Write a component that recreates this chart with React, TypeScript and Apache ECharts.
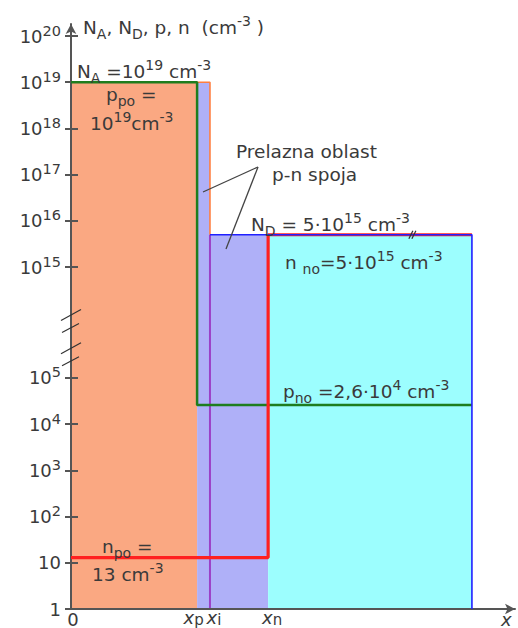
import { useEffect, useRef } from "react";
import * as echarts from "echarts";

// Positions along the device (arbitrary length units): 0, x_p, x_i, x_n, end of n-region
const xPositions = [0, 28.4, 31.3, 44.4, 90.3];
const xTickNames = ["0", "p", "i", "n"];

// Doping levels (cm^-3)
const dopingNA = 1e19;
const dopingND = 5e15;

// Majority / minority carrier concentrations (cm^-3): [p-side, n-side]
const holes = [1e19, 2.6e4]; // p_po, p_no
const electrons = [13, 5e15]; // n_po, n_no

// Decades shown on the concentration axis (below and above the break)
const lowDecades = [0, 1, 2, 3, 4, 5];
const highDecades = [15, 16, 17, 18, 19, 20];

// Broken logarithmic scale: decades 5..15 squeezed into BREAK_GAP units
const BREAK_LOW = 5;
const BREAK_HIGH = 15;
const BREAK_GAP = 2.4;
const Y_MAX = 12.66;

function toU(v: number): number {
  const e = Math.log10(v);
  if (e <= BREAK_LOW) return e;
  if (e <= BREAK_HIGH)
    return BREAK_LOW + ((e - BREAK_LOW) / (BREAK_HIGH - BREAK_LOW)) * BREAK_GAP;
  return e - BREAK_HIGH + BREAK_LOW + BREAK_GAP;
}

function decadeOf(u: number): number {
  if (u <= BREAK_LOW + 0.01) return Math.round(u);
  return Math.round(u - BREAK_LOW - BREAK_GAP + BREAK_HIGH);
}

const FONT = "'DejaVu Sans', Verdana, sans-serif";
const TEXT = "#3a3a3a";
const AXIS = "#555555";

const FILL_P = "#faa882";
const FILL_DEPL = "#afb0f8";
const FILL_N = "#9cfefe";

export default function App() {
  const ref = useRef<HTMLDivElement>(null);

  useEffect(() => {
    if (!ref.current) return;
    const chart = echarts.init(ref.current, undefined, { renderer: "svg" });

    const [x0, xP, xI, xN, xEnd] = xPositions;
    const uNA = toU(dopingNA);
    const uND = toU(dopingND);
    const uBottom = 0;

    const yTicks = [...lowDecades, ...highDecades].map((e) => toU(Math.pow(10, e)));

    // Regions: [from, to, top, colour]
    const regions: [number, number, number, string][] = [
      [x0, xP, uNA, FILL_P],
      [xP, xI, uNA, FILL_DEPL],
      [xI, xN, uND, FILL_DEPL],
      [xN, xEnd, uND, FILL_N],
    ];

    // Break marks: two on the concentration axis, one on the N_D line
    const breakMarks = [
      [0, BREAK_LOW + BREAK_GAP * 0.5, 0],
      [0, BREAK_LOW + BREAK_GAP * 0.2, 0],
      [77, uND, 1],
    ];

    const richText = {
      t: { font: `18.5px ${FONT}`, fill: TEXT },
      sub: { font: `14px ${FONT}`, fill: TEXT, padding: [13, 0, 0, 0] },
      sup: { font: `14px ${FONT}`, fill: TEXT, padding: [0, 0, 12, 0] },
    };

    const label = (x: number, y: number, text: string) => ({
      type: "text",
      x,
      y,
      z: 20,
      style: {
        text,
        rich: richText,
        font: `18.5px ${FONT}`,
        fill: TEXT,
        align: "left",
        verticalAlign: "middle",
        textAlign: "left",
        textVerticalAlign: "middle",
      },
    });

    const line = (data: number[][], color: string, width: number, z: number) => ({
      type: "line",
      data,
      symbol: "none",
      silent: true,
      z,
      lineStyle: { color, width },
    });

    chart.setOption({
      animation: false,
      backgroundColor: "#ffffff",
      grid: {
        left: 71,
        right: 3,
        top: 24,
        bottom: 19,
        containLabel: false,
        outerBoundsMode: "none",
      },
      xAxis: {
        type: "value",
        min: 0,
        max: 100,
        z: 5,
        splitLine: { show: false },
        axisTick: { show: false },
        axisLine: {
          show: true,
          lineStyle: { color: AXIS, width: 2 },
          symbol: ["none", "arrow"],
          symbolSize: [8, 10],
        },
        axisLabel: {
          customValues: xPositions.slice(0, 4),
          margin: 0,
          formatter: (v: number) => {
            const i = xPositions.findIndex((p) => Math.abs(p - v) < 1e-6);
            if (i === 0) return "{z|0}";
            if (i === 1) return `{xl|x}{sl|${xTickNames[i]}}`;
            return `{xr|x}{s|${xTickNames[i]}}`;
          },
          rich: {
            z: { fontSize: 18, fontFamily: FONT, color: TEXT, lineHeight: 16, padding: [4, 0, 0, 4] },
            xl: { fontSize: 18, fontFamily: FONT, fontStyle: "italic", color: TEXT, lineHeight: 16 },
            xr: { fontSize: 18, fontFamily: FONT, fontStyle: "italic", color: TEXT, lineHeight: 16, padding: [0, 0, 0, 8] },
            sl: { fontSize: 15, fontFamily: FONT, color: TEXT, lineHeight: 16, padding: [6, 7, 0, 0] },
            s: { fontSize: 15, fontFamily: FONT, color: TEXT, lineHeight: 16, padding: [6, 0, 0, 0] },
          },
        },
        name: "x",
        nameLocation: "end",
        nameGap: -14,
        nameTextStyle: {
          fontSize: 18,
          fontFamily: FONT,
          fontStyle: "italic",
          color: TEXT,
          verticalAlign: "top",
          padding: [1, 0, 0, 0],
        },
      },
      yAxis: [
        {
          type: "value",
          min: 0,
          max: Y_MAX,
          z: 5,
          splitLine: { show: false },
          axisLine: {
            show: true,
            lineStyle: { color: AXIS, width: 2 },
            symbol: ["none", "arrow"],
            symbolSize: [8, 10],
          },
          axisTick: {
            show: true,
            customValues: yTicks,
            length: 6,
            lineStyle: { color: AXIS, width: 2 },
          },
          axisLabel: {
            customValues: yTicks,
            margin: 10,
            formatter: (v: number) => {
              const e = decadeOf(v);
              if (e === 0) return "{b|1}";
              if (e === 1) return "{b|10}";
              return `{b|10}{s|${e}}`;
            },
            rich: {
              b: { fontSize: 18, fontFamily: FONT, color: TEXT },
              s: { fontSize: 14.5, fontFamily: FONT, color: TEXT, padding: [0, 0, 11, 0] },
            },
          },
        },
        {
          type: "value",
          min: 0,
          max: Y_MAX,
          position: "left",
          z: 5,
          splitLine: { show: false },
          axisLine: { show: false },
          axisLabel: { show: false },
          axisTick: {
            show: true,
            inside: true,
            customValues: yTicks,
            length: 7,
            lineStyle: { color: AXIS, width: 2 },
          },
        },
      ],
      graphic: [
        label(83, 27, "{t|N}{sub|A}{t|, N}{sub|D}{t|, p, n  (cm}{sup|-3}{t| )}"),
        label(77, 71, "{t|N}{sub|A}{t| =10}{sup|19}{t| cm}{sup|-3}"),
        label(106, 94, "{t|p}{sub|po}{t| =}"),
        label(90, 123, "{t|10}{sup|19}{t|cm}{sup|-3}"),
        label(236, 151, "{t|Prelazna oblast}"),
        label(272, 174, "{t|p-n spoja}"),
        label(251, 224, "{t|N}{sub|D}{t| = 5·10}{sup|15}{t| cm}{sup|-3}"),
        label(285, 262, "{t|n }{sub|no}{t|=5·10}{sup|15}{t| cm}{sup|-3}"),
        label(283, 391, "{t|p}{sub|no}{t| =2,6·10}{sup|4}{t| cm}{sup|-3}"),
        label(102, 546, "{t|n}{sub|po}{t| =}"),
        label(92, 574, "{t|13 cm}{sup|-3}"),
        {
          type: "line",
          z: 20,
          shape: { x1: 258, y1: 167, x2: 203, y2: 192 },
          style: { stroke: "#444", lineWidth: 1.3 },
        },
        {
          type: "line",
          z: 20,
          shape: { x1: 258, y1: 167, x2: 226, y2: 249 },
          style: { stroke: "#444", lineWidth: 1.3 },
        },
      ],
      series: [
        {
          type: "custom",
          silent: true,
          z: 1,
          encode: { x: [0, 1], y: 2 },
          data: regions.map((r) => [r[0], r[1], r[2]]),
          renderItem: (params: any, api: any) => {
            const topLeft = api.coord([api.value(0), api.value(2)]);
            const bottomRight = api.coord([api.value(1), uBottom]);
            return {
              type: "rect",
              shape: {
                x: topLeft[0],
                y: topLeft[1],
                width: bottomRight[0] - topLeft[0],
                height: bottomRight[1] - topLeft[1],
              },
              style: { fill: regions[params.dataIndex][3] },
            };
          },
        },
        // N_A: acceptor level up to the metallurgical junction
        line([[x0, uNA], [xI, uNA], [xI, uND]], "#ff7f40", 1.6, 3),
        // metallurgical junction x_i
        line([[xI, uND], [xI, uBottom]], "#9b40c8", 2, 3),
        // holes p(x)
        line(
          [[x0, toU(holes[0])], [xP, toU(holes[0])], [xP, toU(holes[1])], [xEnd, toU(holes[1])]],
          "#1e7d1e",
          2.5,
          5
        ),
        // electrons n(x)
        line(
          [[x0, toU(electrons[0])], [xN, toU(electrons[0])], [xN, toU(electrons[1])], [xEnd, toU(electrons[1])]],
          "#ff2020",
          3.2,
          6
        ),
        // N_D: donor level, drawn over the n(x) line
        line([[xI, uND], [xEnd, uND], [xEnd, uBottom]], "#2020ff", 1.6, 7),
        {
          type: "custom",
          silent: true,
          z: 8,
          data: breakMarks,
          renderItem: (params: any, api: any) => {
            const p = api.coord([api.value(0), api.value(1)]);
            const kind = api.value(2);
            const stroke = { stroke: "#333", lineWidth: 1.2 };
            if (kind === 0) {
              return {
                type: "group",
                children: [
                  { type: "line", shape: { x1: p[0] - 10, y1: p[1] - 2, x2: p[0] + 10, y2: p[1] - 13 }, style: stroke },
                  { type: "line", shape: { x1: p[0] - 9, y1: p[1] + 10, x2: p[0] + 8, y2: p[1] + 1 }, style: stroke },
                ],
              };
            }
            return {
              type: "group",
              children: [
                { type: "line", shape: { x1: p[0] - 4, y1: p[1] + 4, x2: p[0], y2: p[1] - 4 }, style: stroke },
                { type: "line", shape: { x1: p[0] - 1, y1: p[1] + 4, x2: p[0] + 3, y2: p[1] - 4 }, style: stroke },
              ],
            };
          },
        },
      ],
    });

    return () => chart.dispose();
  }, []);

  return (
    <div
      ref={ref}
      style={{ position: "absolute", left: 0, top: 0, width: 518, height: 628 }}
    />
  );
}
